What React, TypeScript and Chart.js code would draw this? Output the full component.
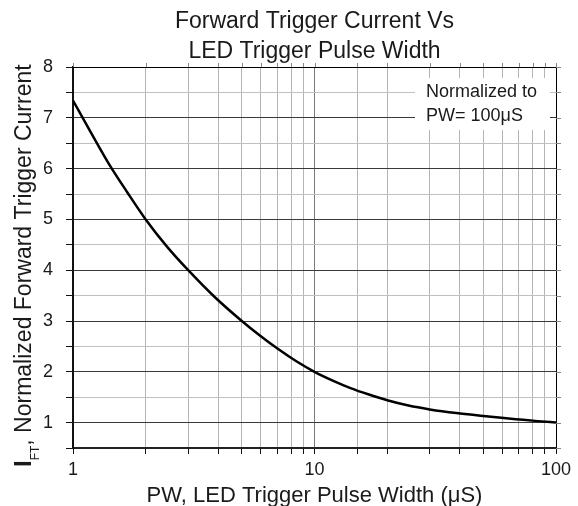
import React, { useEffect, useRef } from "react";
import { Chart, registerables } from "chart.js";

Chart.register(...registerables);

// ---- data ----
const pulseWidths = [1, 1.19, 1.41, 1.68, 2, 2.45, 3, 3.87, 5, 5.94, 7.07, 8.41, 10, 11.9, 14.1, 16.8, 20, 24.5, 30, 38.7, 50, 59.4, 70.7, 84.1, 100];
const currents = [7.34, 6.7, 6.09, 5.53, 5.0, 4.465, 4.0, 3.467, 3.0, 2.714, 2.447, 2.207, 2.0, 1.827, 1.679, 1.552, 1.44, 1.336, 1.26, 1.187, 1.13, 1.094, 1.061, 1.029, 1.0];
const xTickLabels = [1, 10, 100];
const yTickLabels = [1, 2, 3, 4, 5, 6, 7, 8];
const titleLines = ["Forward Trigger Current Vs", "LED Trigger Pulse Width"];
const xTitle = "PW, LED Trigger Pulse Width (\u03BCS)";
const yTitleMain = "I";
const yTitleSub = "FT";
const yTitleRest = ", Normalized Forward Trigger Current";
const noteLines = ["Normalized to", "PW= 100\u03BCS"];

const FONT = "'Liberation Sans', Arial, sans-serif";
const TEXT = "#1a1a1a";

const isMajorLog = (v: number) => Math.abs(Math.log10(v) - Math.round(Math.log10(v))) < 1e-9;

const decor = {
  id: "decor",
  afterDraw(chart: any) {
    const { ctx, chartArea: a, scales } = chart;
    const xs = scales.x;
    const ys = scales.y;
    ctx.save();

    // top & right frame
    ctx.strokeStyle = "#000";
    ctx.lineWidth = 1;
    ctx.beginPath();
    ctx.moveTo(a.left, a.top + 0.5);
    ctx.lineTo(a.right + 0.5, a.top + 0.5);
    ctx.lineTo(a.right + 0.5, a.bottom);
    ctx.stroke();

    // small outward ticks on top and right
    ctx.strokeStyle = "#888";
    ctx.beginPath();
    xs.ticks.forEach((t: any) => {
      const px = Math.round(xs.getPixelForValue(t.value)) + 0.5;
      ctx.moveTo(px, a.top);
      ctx.lineTo(px, a.top - 4);
    });
    ys.ticks.forEach((t: any) => {
      const py = Math.round(ys.getPixelForValue(t.value)) + 0.5;
      ctx.moveTo(a.right, py);
      ctx.lineTo(a.right + 5, py);
    });
    ctx.stroke();

    // note box
    const bx = a.right - 141;
    const by = a.top + 11;
    ctx.fillStyle = "#fff";
    ctx.fillRect(bx, by, 135, 52);
    ctx.fillStyle = TEXT;
    ctx.font = `18px ${FONT}`;
    ctx.textAlign = "left";
    ctx.textBaseline = "alphabetic";
    ctx.fillText(noteLines[0], bx + 11, by + 19);
    ctx.fillText(noteLines[1], bx + 11, by + 43);

    // title
    const cx = (a.left + a.right) / 2;
    ctx.font = `23px ${FONT}`;
    ctx.textAlign = "center";
    ctx.fillText(titleLines[0], cx, 28);
    ctx.fillText(titleLines[1], cx, 58);

    // x title
    ctx.font = `22px ${FONT}`;
    ctx.fillText(xTitle, cx, 502);

    // y title (rotated)
    ctx.translate(31, 467);
    ctx.rotate(-Math.PI / 2);
    ctx.textAlign = "left";
    ctx.font = `bold 24px ${FONT}`;
    ctx.fillText(yTitleMain, 0, 0);
    let off = ctx.measureText(yTitleMain).width;
    ctx.font = `12px ${FONT}`;
    ctx.fillText(yTitleSub, off, 8);
    off += ctx.measureText(yTitleSub).width;
    ctx.font = `23px ${FONT}`;
    ctx.fillText(yTitleRest, off, 0);

    ctx.restore();
  },
};

export default function App() {
  const ref = useRef<HTMLCanvasElement | null>(null);

  useEffect(() => {
    if (!ref.current) return;
    const chart = new Chart(ref.current, {
      type: "line",
      data: {
        datasets: [
          {
            data: pulseWidths.map((x, i) => ({ x, y: currents[i] })),
            borderColor: "#000",
            borderWidth: 2.5,
            pointRadius: 0,
            cubicInterpolationMode: "monotone",
            fill: false,
          },
        ],
      },
      options: {
        animation: false,
        responsive: false,
        layout: { padding: { top: 67, right: 22, left: 0, bottom: 0 } },
        plugins: { legend: { display: false }, title: { display: false }, tooltip: { enabled: false } },
        scales: {
          x: {
            type: "logarithmic",
            min: 1,
            max: 100,
            afterFit: (s: any) => {
              s.height = 58;
            },
            border: { color: "#222", width: 2 },
            grid: {
              color: (c: any) => (c.tick && isMajorLog(c.tick.value) ? "#7a7a7a" : "#b4b4b4"),
              lineWidth: 1,
              tickLength: 6,
              tickColor: "#111",
              drawTicks: true,
            },
            ticks: {
              autoSkip: false,
              maxRotation: 0,
              padding: 5,
              color: TEXT,
              font: { family: FONT, size: 18 },
              callback: (v: any) => (xTickLabels.includes(Number(v)) ? String(v) : ""),
            },
          },
          y: {
            min: 0.5,
            max: 8,
            afterFit: (s: any) => {
              s.width = 73;
            },
            border: { color: "#111", width: 2 },
            grid: {
              color: (c: any) => (c.tick && Number.isInteger(c.tick.value) ? "#3a3a3a" : "#c0c0c0"),
              lineWidth: 1,
              tickLength: 7,
              tickColor: "#111",
            },
            ticks: {
              stepSize: 0.5,
              autoSkip: false,
              padding: 13,
              color: TEXT,
              font: { family: FONT, size: 18 },
              callback: (v: any) => (yTickLabels.includes(Number(v)) ? String(v) : ""),
            },
          },
        },
      },
      plugins: [decor],
    } as any);
    return () => chart.destroy();
  }, []);

  return (
    <div style={{ position: "fixed", left: 0, top: 0, width: 578, height: 506, background: "#fff" }}>
      <canvas ref={ref} width={578} height={506} style={{ display: "block" }} />
    </div>
  );
}
